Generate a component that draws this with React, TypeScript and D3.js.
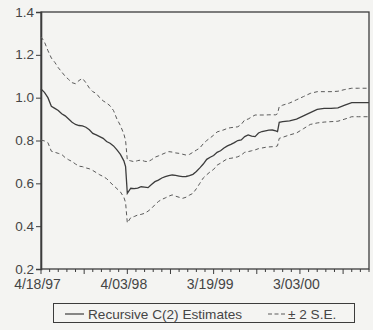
import React, { useEffect, useRef } from 'react';
import * as d3 from 'd3';

// observation index (weeks since 4/18/97)
const weeks = [
  0, 2, 4, 6, 8, 10, 12, 14, 16, 18, 20, 22, 24, 26, 28, 30, 32, 34, 36, 38, 40, 42, 44, 46, 48,
  49,
  50, 52, 54, 56, 58, 60, 62, 64, 66, 68, 70, 72, 74, 76, 78, 80, 82, 84, 86, 88, 90, 92, 94, 96, 98,
  100, 102, 104, 106, 108, 110, 112, 114, 116, 118, 120, 122, 124, 126, 128, 130, 132, 134, 136,
  137,
  138, 140,
  144, 148, 152, 156, 160, 164, 168, 172, 176, 180, 184,
  190
];

const estimate = [
  1.04, 1.025, 1.0, 0.96, 0.95, 0.94, 0.925, 0.915, 0.9, 0.885, 0.875, 0.87, 0.868, 0.862, 0.85, 0.833, 0.826, 0.818, 0.81, 0.795, 0.787, 0.775, 0.756, 0.735, 0.705,
  0.678,
  0.553, 0.577, 0.575, 0.578, 0.584, 0.582, 0.58, 0.595, 0.608, 0.615, 0.625, 0.631, 0.636, 0.639, 0.637, 0.634, 0.631, 0.632, 0.636, 0.642, 0.655, 0.672, 0.69, 0.712, 0.722,
  0.73, 0.745, 0.752, 0.765, 0.775, 0.782, 0.79, 0.8, 0.803, 0.818, 0.826, 0.82, 0.818, 0.835, 0.842, 0.845, 0.848, 0.849, 0.845,
  0.842,
  0.885, 0.888,
  0.892, 0.9, 0.915, 0.93, 0.945, 0.95, 0.95, 0.952, 0.965, 0.977, 0.977,
  0.977
];

const upperBand = [
  1.285, 1.26, 1.22, 1.185, 1.165, 1.14, 1.12, 1.1, 1.085, 1.07, 1.065, 1.08, 1.09, 1.07, 1.045, 1.028, 1.02, 1.0, 0.985, 0.975, 0.962, 0.94, 0.9, 0.87, 0.83,
  0.8,
  0.709, 0.705, 0.701, 0.706, 0.709, 0.703, 0.701, 0.71, 0.722, 0.728, 0.735, 0.742, 0.748, 0.746, 0.742, 0.74, 0.736, 0.732, 0.735, 0.745, 0.755, 0.765, 0.785, 0.8, 0.812,
  0.825, 0.84, 0.845, 0.85, 0.857, 0.86, 0.862, 0.864, 0.875, 0.896, 0.9, 0.91, 0.919, 0.919, 0.919, 0.919, 0.92, 0.92, 0.92,
  0.925,
  0.958, 0.965,
  0.975, 0.99, 1.005, 1.02, 1.028, 1.028, 1.028, 1.03, 1.038, 1.044, 1.044,
  1.044
];

const lowerBand = [
  0.802, 0.798, 0.79, 0.75, 0.745, 0.74, 0.735, 0.72, 0.71, 0.702, 0.69, 0.68, 0.678, 0.672, 0.668, 0.66, 0.65, 0.64, 0.632, 0.622, 0.605, 0.59, 0.575, 0.56, 0.535,
  0.51,
  0.415, 0.44, 0.445, 0.452, 0.455, 0.46, 0.47, 0.483, 0.5, 0.515, 0.525, 0.532, 0.54, 0.546, 0.54, 0.535, 0.53, 0.535, 0.545, 0.553, 0.575, 0.6, 0.625, 0.64, 0.654,
  0.665, 0.685, 0.694, 0.705, 0.715, 0.717, 0.72, 0.724, 0.732, 0.745, 0.748, 0.752, 0.756, 0.762, 0.765, 0.768, 0.77, 0.771, 0.772,
  0.775,
  0.81, 0.815,
  0.826, 0.835, 0.855, 0.875, 0.882, 0.886, 0.888, 0.89, 0.9, 0.911, 0.911,
  0.911
];

const yTicks = [0.2, 0.4, 0.6, 0.8, 1.0, 1.2, 1.4];
const lastWeek = 190;

export default function App() {
  const svgRef = useRef(null);

  const width = 373;
  const height = 330;
  const margin = { top: 12, right: 4, bottom: 61, left: 41 };

  useEffect(() => {
    document.body.style.margin = '0';
    const svg = d3.select(svgRef.current);
    svg.selectAll('*').remove();

    const font = '"Liberation Sans", Arial, sans-serif';
    const ink = '#3c3c3c';
    const textCol = '#454545';

    svg.append('rect').attr('width', width).attr('height', height).attr('fill', '#f4f4f2');

    const start = new Date(1997, 3, 18);
    const toDate = (w) => d3.timeDay.offset(start, 7 * w);

    const x = d3.scaleTime()
      .domain([toDate(0), toDate(lastWeek)])
      .range([margin.left, width - margin.right]);
    const y = d3.scaleLinear()
      .domain([0.2, 1.4])
      .range([height - margin.bottom, margin.top]);

    // frame
    svg.append('rect')
      .attr('x', margin.left)
      .attr('y', margin.top)
      .attr('width', width - margin.right - margin.left)
      .attr('height', height - margin.bottom - margin.top)
      .attr('fill', 'none')
      .attr('stroke', ink)
      .attr('stroke-width', 1.3);

    // y axis
    const yAxis = d3.axisLeft(y)
      .tickValues(yTicks)
      .tickSize(5)
      .tickPadding(2)
      .tickFormat(d3.format('.1f'));
    const yG = svg.append('g')
      .attr('transform', `translate(${margin.left}, 0)`)
      .call(yAxis);
    yG.select('.domain').attr('stroke', ink).attr('stroke-width', 1.6);
    yG.selectAll('line').attr('stroke', ink);
    yG.selectAll('text')
      .attr('font-family', font)
      .attr('font-size', 13.5)
      .attr('dy', '0.3em')
      .attr('fill', textCol);

    // x axis: minor tick every 5 obs, longer every 25, label every 50
    const tickWeeks = d3.range(0, lastWeek + 1, 5);
    const xG = svg.append('g')
      .attr('transform', `translate(0, ${height - margin.bottom})`);
    xG.selectAll('line.tick')
      .data(tickWeeks)
      .enter()
      .append('line')
      .attr('x1', d => x(toDate(d)))
      .attr('x2', d => x(toDate(d)))
      .attr('y1', 0)
      .attr('y2', d => (d % 25 === 0 ? 5 : 3))
      .attr('stroke', ink)
      .attr('stroke-width', 1);
    const fmt = d3.timeFormat('%-m/%d/%y');
    xG.selectAll('text')
      .data(tickWeeks.filter(d => d % 50 === 0))
      .enter()
      .append('text')
      .attr('x', d => x(toDate(d)) - 3.5)
      .attr('y', 20)
      .attr('text-anchor', 'middle')
      .attr('font-family', font)
      .attr('font-size', 14)
      .attr('fill', textCol)
      .text(d => fmt(toDate(d)));

    const makeLine = (vals) => d3.line()
      .x((d, i) => x(toDate(weeks[i])))
      .y(d => y(d))(vals);

    [upperBand, lowerBand].forEach(vals => {
      svg.append('path')
        .attr('d', makeLine(vals))
        .attr('fill', 'none')
        .attr('stroke', '#5a5a5a')
        .attr('stroke-width', 1)
        .attr('stroke-dasharray', '4,3');
    });

    svg.append('path')
      .attr('d', makeLine(estimate))
      .attr('fill', 'none')
      .attr('stroke', ink)
      .attr('stroke-width', 1.3);

    // legend
    const lg = svg.append('g');
    lg.append('rect')
      .attr('x', 53.5).attr('y', 303.5)
      .attr('width', 301).attr('height', 19)
      .attr('fill', 'none')
      .attr('stroke', ink)
      .attr('stroke-width', 1);
    lg.append('line')
      .attr('x1', 65).attr('x2', 84)
      .attr('y1', 314).attr('y2', 314)
      .attr('stroke', ink).attr('stroke-width', 1.2);
    lg.append('text')
      .attr('x', 88).attr('y', 319)
      .attr('font-family', font).attr('font-size', 13.6)
      .attr('fill', textCol)
      .text('Recursive C(2) Estimates');
    lg.append('line')
      .attr('x1', 268).attr('x2', 285)
      .attr('y1', 314).attr('y2', 314)
      .attr('stroke', '#5a5a5a').attr('stroke-width', 1)
      .attr('stroke-dasharray', '4,2.5');
    lg.append('text')
      .attr('x', 288).attr('y', 319)
      .attr('font-family', font).attr('font-size', 13.6)
      .attr('fill', textCol)
      .text('± 2 S.E.');
  }, []);

  return (
    <svg ref={svgRef} width={width} height={height} style={{ display: 'block' }}></svg>
  );
}
